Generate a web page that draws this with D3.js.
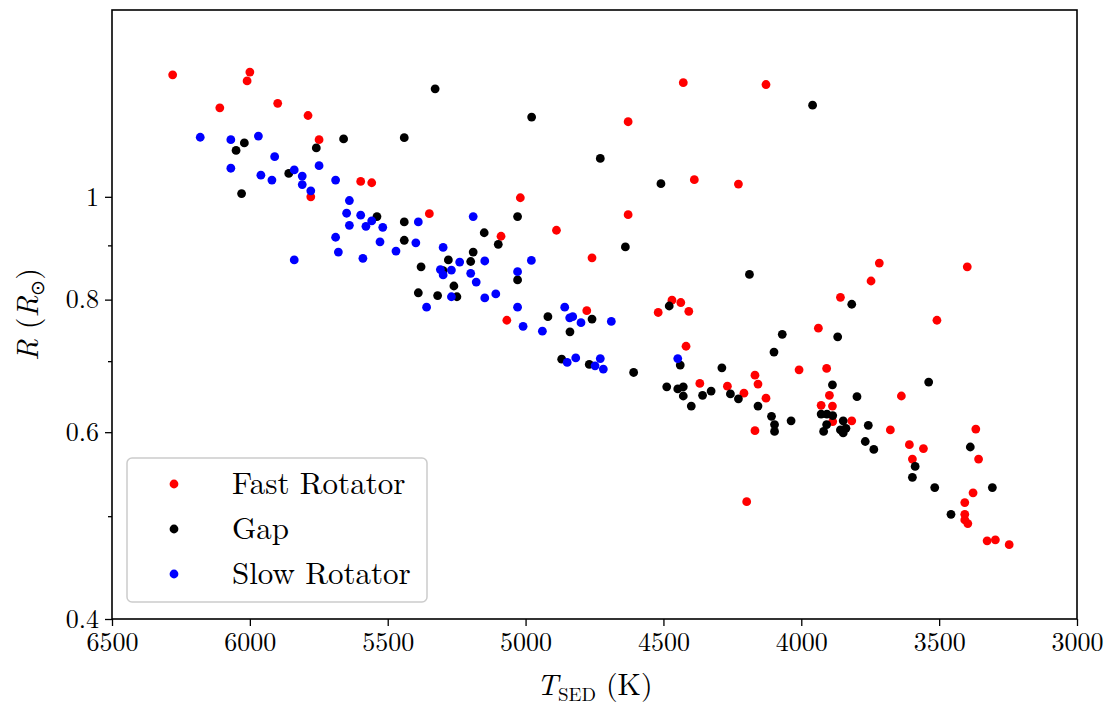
<!DOCTYPE html>
<html>
<head>
<meta charset="utf-8">
<script src="https://cdn.jsdelivr.net/npm/d3@7"></script>
<style>
  body { margin: 0; background: #fff; }
  text { font-family: "Latin Modern Roman", "CMU Serif", "Liberation Serif", serif; }
</style>
</head>
<body>
<div id="viz"></div>
<script>
// [T_SED (K), R (R_sun)]
const fastRotators = [
  [6280,1.303],[6000,1.311],[6010,1.286],[6109,1.213],[5899,1.225],[5789,1.193],[5749,1.132],[5779,1.0],
  [5598,1.034],[5558,1.031],[5349,0.964],[5019,0.998],[5089,0.918],[4888,0.930],[4628,1.177],[4628,0.962],
  [4759,0.876],[5068,0.765],[4778,0.781],[4519,0.778],[4469,0.799],[4437,0.795],[4408,0.780],[4418,0.723],
  [4428,1.281],[4128,1.276],[4388,1.038],[4228,1.028],[4368,0.667],[4268,0.663],[4208,0.653],[4168,0.679],
  [4157,0.666],[4128,0.646],[4168,0.602],[4198,0.516],[4008,0.687],[3908,0.689],[3898,0.650],[3928,0.636],
  [3887,0.635],[3886,0.614],[3817,0.615],[3938,0.752],[3858,0.804],[3747,0.833],[3717,0.866],[3677,0.603],
  [3637,0.649],[3608,0.584],[3557,0.579],[3597,0.566],[3508,0.765],[3398,0.859],[3367,0.604],[3357,0.566],
  [3377,0.526],[3407,0.515],[3407,0.502],[3407,0.496],[3396,0.492],[3326,0.474],[3296,0.475],[3246,0.470]
];
const gapStars = [
  [5328,1.264],[4978,1.189],[5440,1.137],[4729,1.087],[4509,1.029],[3959,1.220],[6020,1.124],[6050,1.106],
  [5759,1.112],[5660,1.134],[5859,1.052],[6030,1.007],[5539,0.958],[5440,0.947],[5029,0.958],[5150,0.925],
  [5099,0.902],[5440,0.910],[5190,0.887],[5280,0.872],[5199,0.869],[4638,0.897],[5379,0.859],[5299,0.852],
  [5029,0.835],[5260,0.824],[5389,0.812],[5319,0.807],[5249,0.805],[4919,0.771],[4759,0.767],[4839,0.746],
  [4479,0.789],[4869,0.703],[4769,0.695],[4608,0.683],[4439,0.694],[4188,0.845],[3817,0.792],[4069,0.742],
  [3868,0.738],[4099,0.714],[4288,0.690],[4488,0.662],[4448,0.659],[4428,0.662],[4428,0.649],[4327,0.656],
  [4358,0.650],[4399,0.635],[4257,0.652],[4228,0.645],[4157,0.635],[3887,0.665],[3798,0.648],[4108,0.621],
  [4097,0.610],[4097,0.601],[4037,0.615],[3928,0.624],[3907,0.624],[3886,0.622],[3908,0.610],[3919,0.601],
  [3848,0.615],[3858,0.603],[3838,0.605],[3848,0.599],[3757,0.609],[3768,0.588],[3737,0.578],[3538,0.669],
  [3587,0.557],[3597,0.544],[3516,0.532],[3457,0.502],[3387,0.581],[3307,0.532]
];
const slowRotators = [
  [6180,1.138],[6069,1.132],[5969,1.141],[5910,1.091],[6069,1.064],[5960,1.048],[5920,1.037],[5839,1.060],
  [5810,1.046],[5749,1.070],[5810,1.027],[5779,1.013],[5689,1.037],[5639,0.992],[5649,0.965],[5598,0.961],
  [5558,0.949],[5639,0.940],[5579,0.938],[5518,0.936],[5689,0.916],[5528,0.907],[5679,0.887],[5590,0.875],
  [5839,0.872],[5470,0.889],[5389,0.947],[5398,0.905],[5190,0.958],[5299,0.896],[5239,0.868],[5148,0.870],
  [4979,0.871],[5309,0.854],[5269,0.853],[5299,0.844],[5199,0.847],[5029,0.850],[5179,0.831],[5269,0.805],
  [5148,0.803],[5108,0.810],[5359,0.787],[5029,0.787],[5009,0.755],[4939,0.747],[4858,0.787],[4840,0.769],
  [4829,0.771],[4799,0.761],[4689,0.763],[4849,0.698],[4818,0.705],[4748,0.693],[4729,0.704],[4718,0.688],
  [4448,0.704]
];

const groups = ["Fast Rotator", "Gap", "Slow Rotator"];
const groupColors = ["#ff0000", "#000000", "#0000ff"];
const xTicks = [6500, 6000, 5500, 5000, 4500, 4000, 3500, 3000];
const yTicks = [0.4, 0.6, 0.8, 1];
const yMinorTicks = [0.5, 0.7, 0.9];

const width = 1119;
const height = 709;
const margin = { top: 10, right: 42, bottom: 90, left: 112 };

const svg = d3.select("#viz").append("svg")
    .attr("width", width)
    .attr("height", height);

const x = d3.scaleLinear()
    .domain([6500, 3000])
    .range([margin.left, width - margin.right]);

const y = d3.scaleLog()
    .domain([0.4, 1.5])
    .range([height - margin.bottom, margin.top]);

// axes
const xAxis = svg.append("g")
    .attr("transform", `translate(0,${height - margin.bottom})`)
    .call(d3.axisBottom(x).tickValues(xTicks).tickFormat(d3.format("d")).tickSize(7).tickSizeOuter(0).tickPadding(7));

const yAxis = svg.append("g")
    .attr("transform", `translate(${margin.left},0)`)
    .call(d3.axisLeft(y).tickValues(yTicks).tickFormat(d3.format("~g")).tickSize(7).tickSizeOuter(0).tickPadding(6));

const yMinor = svg.append("g")
    .attr("transform", `translate(${margin.left},0)`)
    .call(d3.axisLeft(y).tickValues(yMinorTicks).tickFormat("").tickSize(4).tickSizeOuter(0));

[xAxis, yAxis, yMinor].forEach(g => {
    g.select(".domain").remove();
    g.selectAll(".tick line").attr("stroke", "#000").attr("stroke-width", 1.3);
    g.selectAll("text")
        .attr("fill", "#000")
        .style("font-size", "26px")
        .style("font-family", '"Latin Modern Roman", "CMU Serif", "Liberation Serif", serif');
});

// scatter: same order as the legend
const series = [fastRotators, gapStars, slowRotators];
series.forEach((pts, i) => {
    svg.append("g")
        .selectAll("circle")
        .data(pts)
        .enter()
        .append("circle")
        .attr("cx", d => x(d[0]))
        .attr("cy", d => y(d[1]))
        .attr("r", 4.4)
        .attr("fill", groupColors[i]);
});

// frame
svg.append("rect")
    .attr("x", margin.left)
    .attr("y", margin.top)
    .attr("width", width - margin.left - margin.right)
    .attr("height", height - margin.top - margin.bottom)
    .attr("fill", "none")
    .attr("stroke", "#000")
    .attr("stroke-width", 1.6);

// axis titles
const xTitle = svg.append("text")
    .attr("x", (margin.left + width - margin.right) / 2)
    .attr("y", 695)
    .attr("text-anchor", "middle")
    .style("font-size", "30px");
xTitle.append("tspan").style("font-style", "italic").text("T");
xTitle.append("tspan").attr("dy", 6).style("font-size", "19px").text("SED");
xTitle.append("tspan").attr("dy", -6).text(" (K)");

const yTitle = svg.append("text")
    .attr("transform", `translate(38,${(margin.top + height - margin.bottom) / 2}) rotate(-90)`)
    .attr("text-anchor", "middle")
    .style("font-size", "30px");
yTitle.append("tspan").style("font-style", "italic").text("R");
yTitle.append("tspan").text(" (");
yTitle.append("tspan").style("font-style", "italic").text("R");
yTitle.append("tspan").attr("dy", 6).style("font-size", "19px").text("\u2299");
yTitle.append("tspan").attr("dy", -6).text(")");

// legend
const legend = svg.append("g");
legend.append("rect")
    .attr("x", 127).attr("y", 458)
    .attr("width", 300).attr("height", 144)
    .attr("rx", 5)
    .attr("fill", "#fff").attr("fill-opacity", 0.8)
    .attr("stroke", "#cccccc").attr("stroke-width", 1.5);

groups.forEach((name, i) => {
    const cy = 484 + i * 45;
    legend.append("circle")
        .attr("cx", 174).attr("cy", cy).attr("r", 4.4)
        .attr("fill", groupColors[i]);
    legend.append("text")
        .attr("x", 232).attr("y", cy + 10)
        .style("font-size", "31px")
        .text(name);
});
</script>
</body>
</html>
